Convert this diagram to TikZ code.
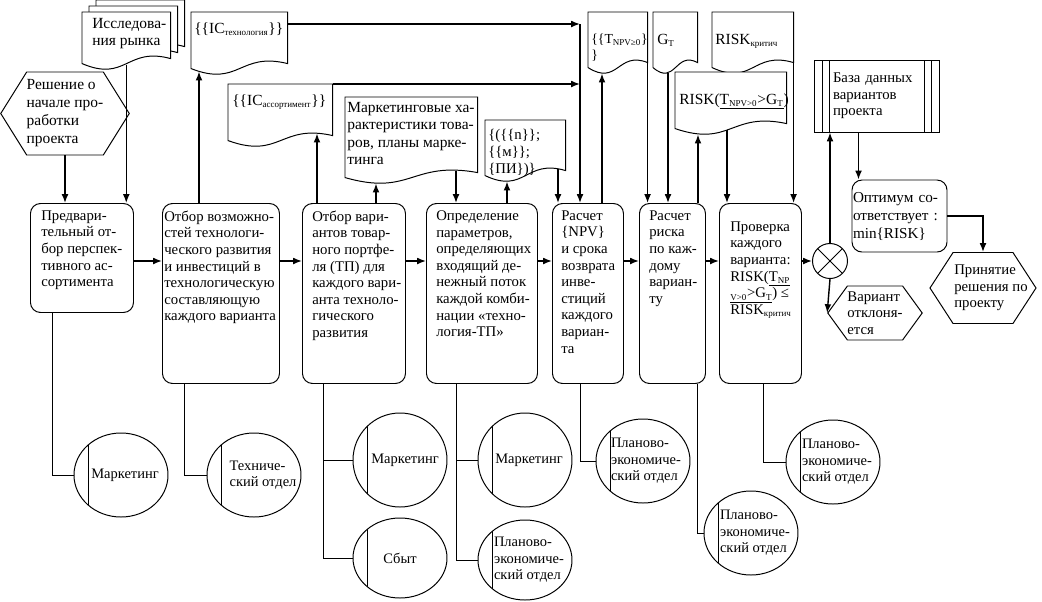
\documentclass[tikz,border=0pt]{standalone}
\usepackage{fontspec}
\setmainfont{Liberation Serif}
\usetikzlibrary{calc, shapes.geometric, shapes.symbols, arrows.meta}
\newlength{\pix}
\setlength{\pix}{0.025cm}
\newcommand{\boxfont}{\fontsize{10.5}{11.8}\selectfont}
\newcommand{\docfont}{\fontsize{11}{12.5}\selectfont}
\newcommand{\smalldocfont}{\fontsize{9.8}{11}\selectfont}
\newcommand{\hexfont}{\fontsize{11}{12.8}\selectfont}
\newcommand{\optfont}{\fontsize{10.8}{12.8}\selectfont}
\newcommand{\orgfont}{\fontsize{10.3}{11.8}\selectfont}
\newcommand{\sub}[1]{\textsubscript{\fontsize{6.4}{7}\selectfont #1}}
% sheet with a wavy lower edge
\newcommand{\docline}[1]{%
  \draw[outline, fill=white] (#1.north west) -- (#1.north east) -- ($(#1.south east)+(0,-12)$)
    .. controls ($(#1.south)+(0,-24)$) and ($(#1.south)+(0,12)$) .. ($(#1.south west)+(0,-7)$) -- cycle;}

\begin{document}
\begin{tikzpicture}[x=0.025cm, y=-0.025cm,
    outline/.style={line width=0.7pt},
    proc/.style={draw, outline, rounded corners=2.5mm, anchor=north west, inner sep=0pt},
    doc/.style={anchor=north west, inner sep=0pt},
    txt/.style={anchor=north west, inner sep=0pt, align=left, font=\boxfont, execute at begin node=\strut},
    dtxt/.style={txt, font=\docfont},
    hexa/.style={draw, outline, signal, signal to=west and east, inner sep=0pt, align=left},
    org/.style={draw, outline, ellipse, minimum width=94\pix, minimum height=84\pix, inner sep=0pt,
      path picture={\draw[outline] ([xshift=14\pix]path picture bounding box.north west) -- ([xshift=14\pix]path picture bounding box.south west);}},
    orgtxt/.style={align=left, inner sep=0pt, font=\orgfont},
    arr/.style={line width=1pt, -{Latex[length=2.2mm, width=1.7mm]}},
    link/.style={outline}]
  \useasboundingbox (0,0) rectangle (1042,601);

  %% inputs of the first step
  \node[hexa, font=\hexfont, minimum width=128\pix, minimum height=83\pix, signal pointer angle=116] (dec) at (65,113.5) {Решение о\\начале про-\\работки\\проекта};
  \node[doc, minimum width=88\pix, minimum height=58\pix] (mr3) at (96,0) {};
  \node[doc, minimum width=88\pix, minimum height=58\pix] (mr2) at (89,6) {};
  \node[doc, minimum width=88\pix, minimum height=58\pix] (mr) at (82,12) {};
  \docline{mr3} \docline{mr2} \docline{mr}
  \node[dtxt] (mrt) at ($(mr.north west)+(10,5.7)$) {Исследова-\\ния рынка};

  %% documents
  \node[doc, minimum width=96\pix, minimum height=63\pix] (ict) at (191,12) {};
  \node[doc, minimum width=104\pix, minimum height=63\pix] (ica) at (228,84) {};
  \node[doc, minimum width=132\pix, minimum height=87\pix] (mk) at (345,97) {};
  \node[doc, minimum width=80\pix, minimum height=62\pix] (pi) at (485,120) {};
  \node[doc, minimum width=59\pix, minimum height=62\pix] (tnpv) at (588,12) {};
  \node[doc, minimum width=44\pix, minimum height=62\pix] (gt) at (653,12) {};
  \node[doc, minimum width=81\pix, minimum height=62\pix] (rcr) at (712,12) {};
  \node[doc, minimum width=111\pix, minimum height=63\pix] (rtg) at (675,72) {};
  \foreach \dn in {ict,ica,mk,pi,tnpv,gt,rcr,rtg} {\docline{\dn}}
  \node[dtxt] (ictt) at ($(ict.north west)+(3,8.7)$) {\{\{IC\sub{технология}\}\}};
  \node[dtxt] (icat) at ($(ica.north west)+(4,8.7)$) {\{\{IC\sub{ассортимент}\}\}};
  \node[dtxt] (mkt) at ($(mk.north west)+(2,4.7)$) {Маркетинговые ха-\\рактеристики това-\\ров, планы марке-\\тинга};
  \node[txt] (pit) at ($(pi.north west)+(3,9.4)$) {\{(\{\{n\}\};\\\{\{м\}\};\\\{ПИ\})\}};
  \node[txt, font=\smalldocfont] (tnpvt) at ($(tnpv.north west)+(3,22)$) {\{\{T\sub{NPV≥0}\}\\\}};
  \node[dtxt] (gtt) at ($(gt.north west)+(4,19.5)$) {G\sub{T}};
  \node[dtxt] (rcrt) at ($(rcr.north west)+(3,19.5)$) {RISK\sub{критич}};
  \node[dtxt] (rtgt) at ($(rtg.north west)+(4,19.5)$) {RISK(\underline{T\sub{NPV>0}>G\sub{T}})};

  %% steps
  \node[proc, minimum width=103\pix, minimum height=109\pix] (b1) at (30,203) {};
  \node[proc, minimum width=117\pix, minimum height=180\pix] (b2) at (162,203) {};
  \node[proc, minimum width=103\pix, minimum height=180\pix] (b3) at (302,203) {};
  \node[proc, minimum width=111\pix, minimum height=180\pix] (b4) at (426,203) {};
  \node[proc, minimum width=71\pix, minimum height=180\pix] (b5) at (552,203) {};
  \node[proc, minimum width=66\pix, minimum height=180\pix] (b6) at (639,203) {};
  \node[proc, minimum width=82\pix, minimum height=180\pix] (b7) at (719,203) {};
  \node[txt] (b1t) at ($(b1.north west)+(11,7.4)$) {Предвари-\\тельный от-\\бор перспек-\\тивного ас-\\сортимента};
  \node[txt] (b2t) at ($(b2.north west)+(2,7.4)$) {Отбор возможно-\\стей технологи-\\ческого развития\\и инвестиций в\\технологическую\\составляющую\\каждого варианта};
  \node[txt] (b3t) at ($(b3.north west)+(10,7.4)$) {Отбор вари-\\антов товар-\\ного портфе-\\ля (ТП) для\\каждого вари-\\анта техноло-\\гического\\развития};
  \node[txt] (b4t) at ($(b4.north west)+(10,7.4)$) {Определение\\параметров,\\определяющих\\входящий де-\\нежный поток\\каждой комби-\\нации «техно-\\логия-ТП»};
  \node[txt] (b5t) at ($(b5.north west)+(9,7.4)$) {Расчет\\\{NPV\}\\и срока\\возврата\\инве-\\стиций\\каждого\\вариан-\\та};
  \node[txt] (b6t) at ($(b6.north west)+(10,7.4)$) {Расчет\\риска\\по каж-\\дому\\вариан-\\ту};
  \node[txt] (b7t) at ($(b7.north west)+(11,18.4)$) {Проверка\\каждого\\варианта:\\RISK(\underline{T\sub{NP}}\\\underline{\sub{V>0}>G\sub{T}})~≤\\RISK\sub{критич}};

  %% result side
  \node[draw, outline, circle, minimum size=35\pix, inner sep=0pt,
    path picture={\draw[outline] (path picture bounding box.north west) -- (path picture bounding box.south east)
      (path picture bounding box.north east) -- (path picture bounding box.south west);}] (junc) at (830,261) {};
  \node[draw, outline, minimum width=125\pix, minimum height=72\pix, text width=87\pix, inner xsep=19\pix, align=left, font=\boxfont,
    path picture={\draw[outline]
      ([xshift=8\pix]path picture bounding box.north west) -- ([xshift=8\pix]path picture bounding box.south west)
      ([xshift=15\pix]path picture bounding box.north west) -- ([xshift=15\pix]path picture bounding box.south west)
      ([xshift=-8\pix]path picture bounding box.north east) -- ([xshift=-8\pix]path picture bounding box.south east)
      ([xshift=-15\pix]path picture bounding box.north east) -- ([xshift=-15\pix]path picture bounding box.south east);}] (db) at (876.5,96) {База данных\\вариантов\\проекта};
  \node[draw, outline, rounded corners=2.5mm, minimum height=72\pix, text width=93\pix, inner xsep=1\pix, align=left, font=\optfont] (opt) at (899.5,216) {Оптимум со-\\ответствует~:\\min\{RISK\}};
  \node[hexa, font=\boxfont, minimum width=106\pix, minimum height=71\pix, signal pointer angle=114,
    label={[orgtxt, font=\boxfont, xshift=8\pix]center:Принятие\\решения по\\проекту}] (acc) at (983,288) {};
  \node[hexa, font=\boxfont, minimum width=90\pix, minimum height=54\pix, signal pointer angle=108] (rej) at (875,313) {Вариант\\отклоня-\\ется};

  %% departments
  \node[org, label={[orgtxt, xshift=4\pix]center:Маркетинг}] (m1) at (121,475) {};
  \node[org, label={[orgtxt, xshift=9\pix]center:Техниче-\\ский отдел}] (t2) at (254,475) {};
  \node[org, minimum height=94\pix, label={[orgtxt, xshift=5\pix]center:Маркетинг}] (m3) at (400,460) {};
  \node[org, minimum height=80\pix, label={[orgtxt]center:Сбыт}] (s3) at (400,558) {};
  \node[org, minimum height=94\pix, label={[orgtxt, xshift=4\pix]center:Маркетинг}] (m4) at (525,460) {};
  \node[org, minimum height=80\pix, label={[orgtxt, xshift=4\pix]center:Планово-\\экономиче-\\ский отдел}] (p4) at (525,560) {};
  \node[org, label={[orgtxt, xshift=3\pix]center:Планово-\\экономиче-\\ский отдел}] (p5) at (643,461) {};
  \node[org, label={[orgtxt, xshift=4\pix]center:Планово-\\экономиче-\\ский отдел}] (p6) at (751,533) {};
  \node[org, label={[orgtxt, xshift=4\pix]center:Планово-\\экономиче-\\ский отдел}] (p7) at (833,462) {};

  %% main flow
  \draw[arr] (dec.south) -- (dec.south |- b1.north);
  \coordinate (mr-out) at ($(mr.south)+(0,-6)$);
  \draw[arr] (mr-out) -- (mr-out |- b1.north);
  \coordinate (row) at (0,261);
  \foreach \src/\dst in {b1/b2,b2/b3,b3/b4,b4/b5,b5/b6,b6/b7}
    \draw[arr] (\src.east |- row) -- (\dst.west |- row);
  \draw[arr] (b7.east |- row) -- (junc.west);

  %% documents in and out
  \coordinate (ict-in) at ($(ict.south west)+(8,-4)$);
  \draw[arr] (b2.north -| ict-in) -- (ict-in);
  \coordinate (b5x) at ($(b5.north west)+(28,0)$);
  \coordinate (ict-out) at ($(ict.north east)+(0,12)$);
  \draw[arr] (ict-out) -- (ict-out -| b5x);
  \draw[arr] (ica.north east) -- (ica.north east -| b5x);
  \draw[arr] (ict-out -| b5x) -- (b5x);
  \coordinate (ica-in) at ($(ica.south west)+(89,-14)$);
  \draw[arr] (b3.north -| ica-in) -- (ica-in);
  \coordinate (mk-in) at ($(mk.south west)+(31,-1)$);
  \draw[arr] (b3.north -| mk-in) -- (mk-in);
  \coordinate (mk-out) at ($(mk.south west)+(111,-14)$);
  \draw[arr] (mk-out) -- (mk-out |- b4.north);
  \coordinate (pi-in) at ($(pi.south west)+(22,-1)$);
  \draw[arr] (b4.north -| pi-in) -- (pi-in);
  \coordinate (pi-out) at ($(pi.south west)+(73,-14)$);
  \draw[arr] (pi-out) -- (pi-out |- b5.north);
  \coordinate (tnpv-in) at ($(tnpv.south west)+(14,-1)$);
  \draw[arr] (b5.north -| tnpv-in) -- (tnpv-in);
  \coordinate (tnpv-out) at ($(tnpv.south east)+(0,-12)$);
  \draw[arr] (tnpv-out) -- (tnpv-out |- b6.north);
  \coordinate (gt-out) at ($(gt.south west)+(15,-2)$);
  \draw[arr] (gt-out) -- (gt-out |- b6.north);
  \coordinate (rtg-in) at ($(rtg.south west)+(23,-1)$);
  \draw[arr] (b6.north -| rtg-in) -- (rtg-in);
  \coordinate (rtg-out) at ($(rtg.south west)+(52,-6)$);
  \draw[arr] (rtg-out) -- (rtg-out |- b7.north);
  \coordinate (rcr-out) at ($(rcr.south east)+(0,-12)$);
  \draw[arr] (rcr-out) -- (rcr-out |- b7.north);

  %% check and decision
  \draw[arr] (junc.north) -- (junc.north |- db.south);
  \draw[arr] (junc.south) -- (rej.west);
  \coordinate (db-out) at ($(db.south west)+(45,0)$);
  \draw[arr] (db-out) -- (db-out |- opt.north);
  \draw[arr] (opt.east) -| (acc.north);

  %% departments
  \coordinate (b1d) at ($(b1.south west)+(22,0)$);
  \draw[link] (b1d) |- (m1.west);
  \coordinate (b2d) at ($(b2.south west)+(22,0)$);
  \draw[link] (b2d) |- (t2.west);
  \coordinate (b3d) at ($(b3.south west)+(21,0)$);
  \draw[link] (b3d) |- (s3.west);
  \draw[link] (b3d |- m3.west) -- (m3.west);
  \coordinate (b4d) at ($(b4.south west)+(30,0)$);
  \draw[link] (b4d) |- (p4.west);
  \draw[link] (b4d |- m4.west) -- (m4.west);
  \coordinate (b5d) at ($(b5.south west)+(28,0)$);
  \draw[link] (b5d) |- (p5.west);
  \coordinate (b6d) at ($(b6.south west)+(58,0)$);
  \draw[link] (b6d) |- (p6.west);
  \coordinate (b7d) at ($(b7.south west)+(44,0)$);
  \draw[link] (b7d) |- (p7.west);
\end{tikzpicture}
\end{document}
